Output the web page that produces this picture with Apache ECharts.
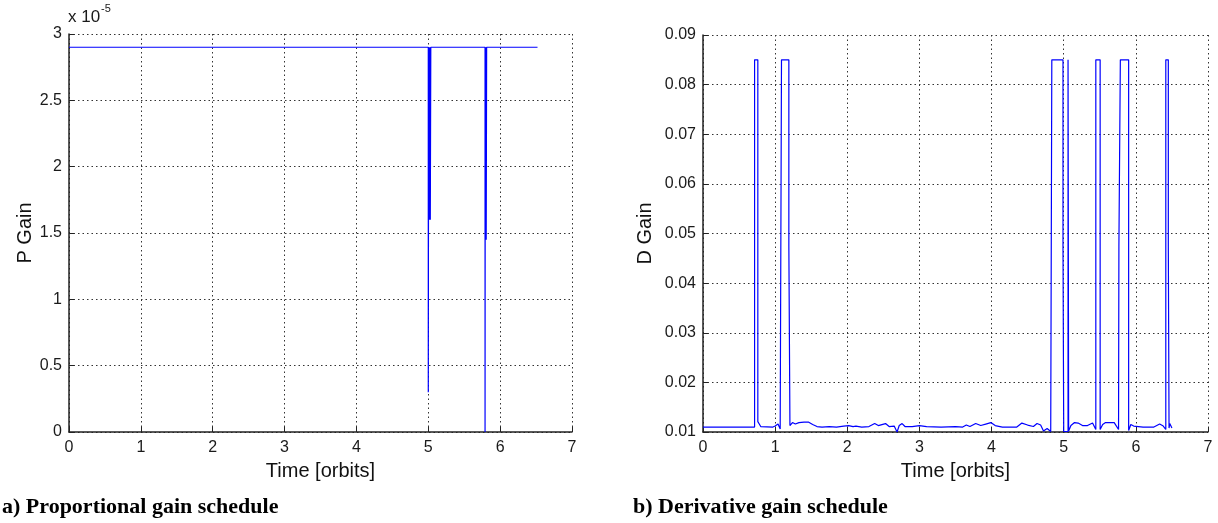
<!DOCTYPE html>
<html>
<head>
<meta charset="utf-8">
<script src="https://cdn.jsdelivr.net/npm/echarts@6/dist/echarts.min.js"></script>
<style>
  html, body { margin: 0; padding: 0; background: #fff; }
  #chart { width: 1218px; height: 523px; }
</style>
</head>
<body>
<div id="chart"></div>
<script>
// a) proportional gain, values in units of 1e-5
var pTime = [0, 5.0, 5.0, 5.005, 5.012, 5.012, 5.02, 5.02, 5.028, 5.028, 5.035,
             5.79, 5.79, 5.793, 5.8, 5.8, 5.806, 5.806, 5.812, 6.52];
var pGain = [2.9, 2.9, 0.3, 2.9, 2.9, 1.6, 2.9, 1.6, 2.9, 1.6, 2.9,
             2.9, 0, 2.9, 2.9, 1.45, 2.9, 1.45, 2.9, 2.9];

// b) derivative gain
var dTime = [0, 0.715, 0.715, 0.76, 0.76, 0.78, 0.8, 0.97, 1.0, 1.04, 1.07, 1.088, 1.088, 1.19, 1.19, 1.205, 1.205,
             1.24, 1.28, 1.33, 1.4, 1.46, 1.52, 1.58, 1.65, 1.75, 1.85, 1.95, 2.02, 2.08, 2.12, 2.2, 2.3,
             2.38, 2.43, 2.48, 2.53, 2.58, 2.65, 2.69, 2.72, 2.76, 2.8, 2.9, 3.0, 3.1, 3.3, 3.5, 3.6,
             3.65, 3.7, 3.78, 3.85, 3.92, 3.99, 4.05, 4.15, 4.35, 4.42, 4.5, 4.58, 4.63, 4.68, 4.72,
             4.77, 4.82, 4.835, 4.835, 4.99, 4.99, 5.0, 5.0, 5.06, 5.06, 5.068, 5.068, 5.1, 5.15, 5.2,
             5.26, 5.33, 5.4, 5.445, 5.445, 5.505, 5.505, 5.54, 5.58, 5.7, 5.76, 5.765, 5.765, 5.785,
             5.785, 5.9, 5.9, 5.93, 5.97, 6.1, 6.25, 6.33, 6.38, 6.415, 6.415, 6.45, 6.45, 6.46, 6.46,
             6.47, 6.5];
var dGain = [0.011, 0.011, 0.085, 0.085, 0.0121, 0.0116, 0.0111, 0.011, 0.0112, 0.0116, 0.0106, 0.0105, 0.085, 0.085, 0.0475, 0.0475, 0.0113,
             0.0119, 0.0116, 0.0119, 0.012, 0.012, 0.0115, 0.0111, 0.011, 0.0111, 0.011, 0.0112, 0.0113, 0.0111, 0.0112, 0.011, 0.0111,
             0.0117, 0.0113, 0.0115, 0.0117, 0.0111, 0.0112, 0.0100, 0.0113, 0.0117, 0.0111, 0.0111, 0.0113, 0.0111, 0.011, 0.0111, 0.011,
             0.0114, 0.0111, 0.0117, 0.0113, 0.0116, 0.0119, 0.0113, 0.011, 0.011, 0.0118, 0.0114, 0.0111, 0.0117, 0.0114, 0.0102,
             0.0107, 0.0101, 0.0102, 0.085, 0.085, 0.0475, 0.0475, 0.0101, 0.0101, 0.085, 0.085, 0.0102, 0.0113, 0.0119, 0.0118,
             0.0113, 0.0113, 0.0118, 0.0105, 0.085, 0.085, 0.0105, 0.0115, 0.0119, 0.0119, 0.0105, 0.0105, 0.0475, 0.0475,
             0.085, 0.085, 0.0103, 0.0115, 0.0112, 0.011, 0.011, 0.0116, 0.0112, 0.0105, 0.085, 0.085, 0.0475, 0.0475, 0.0108,
             0.0117, 0.0108];

var xTicks = [0, 7, 1];   // min, max, interval

function zip(xs, ys) {
  var out = [];
  for (var i = 0; i < xs.length; i++) out.push([xs[i], ys[i]]);
  return out;
}

var tickFont = { fontFamily: 'Liberation Sans', fontSize: 16, color: '#1a1a1a' };
var nameFont = { fontFamily: 'Liberation Sans', fontSize: 20, color: '#111' };
var axisLine = { show: true, onZero: false, lineStyle: { color: '#222', width: 1.5 } };
var gridLine = { show: true, lineStyle: { color: '#333', width: 1, type: [1.5, 3] } };
var ticks = { show: true, inside: true, length: 5, lineStyle: { color: '#222' } };

function xAxis(idx) {
  return {
    type: 'value', gridIndex: idx, min: xTicks[0], max: xTicks[1], interval: xTicks[2],
    name: 'Time [orbits]', nameLocation: 'middle', nameGap: 29, nameTextStyle: nameFont,
    axisLine: axisLine, axisTick: ticks, splitLine: gridLine,
    axisLabel: Object.assign({ margin: 8 }, tickFont)
  };
}

var chart = echarts.init(document.getElementById('chart'));
chart.setOption({
  animation: false,
  grid: [
    { left: 69, right: 646, top: 34, bottom: 91 },
    { left: 703, right: 10, top: 35, bottom: 91 }
  ],
  xAxis: [xAxis(0), xAxis(1)],
  yAxis: [
    {
      type: 'value', gridIndex: 0, min: 0, max: 3, interval: 0.5,
      name: 'P Gain', nameLocation: 'middle', nameGap: 31, nameTextStyle: nameFont,
      axisLine: axisLine, axisTick: ticks, splitLine: gridLine,
      axisLabel: Object.assign({ margin: 7 }, tickFont)
    },
    {
      type: 'value', gridIndex: 1, min: 0.01, max: 0.09, interval: 0.01,
      name: 'D Gain', nameLocation: 'middle', nameGap: 48, nameTextStyle: nameFont,
      axisLine: axisLine, axisTick: ticks, splitLine: gridLine,
      axisLabel: Object.assign({ margin: 7, formatter: function (v) { return v.toFixed(2); } }, tickFont)
    }
  ],
  series: [
    {
      type: 'line', xAxisIndex: 0, yAxisIndex: 0, data: zip(pTime, pGain),
      showSymbol: false, lineStyle: { color: '#0000ff', width: 1.2 }
    },
    {
      type: 'line', xAxisIndex: 1, yAxisIndex: 1, data: zip(dTime, dGain),
      showSymbol: false, lineStyle: { color: '#0000ff', width: 1.2 }
    }
  ],
  graphic: [
    { type: 'text', left: 68, top: 9, style: { text: 'x 10', font: '17px "Liberation Sans"', fill: '#1a1a1a' } },
    { type: 'text', left: 101, top: 3, style: { text: '-5', font: '11px "Liberation Sans"', fill: '#1a1a1a' } },
    { type: 'text', left: 2, top: 496, style: { text: 'a) Proportional gain schedule', font: 'bold 22px "Liberation Serif"', fill: '#000' } },
    { type: 'text', left: 633, top: 496, style: { text: 'b) Derivative gain schedule', font: 'bold 22px "Liberation Serif"', fill: '#000' } }
  ]
});
</script>
</body>
</html>
